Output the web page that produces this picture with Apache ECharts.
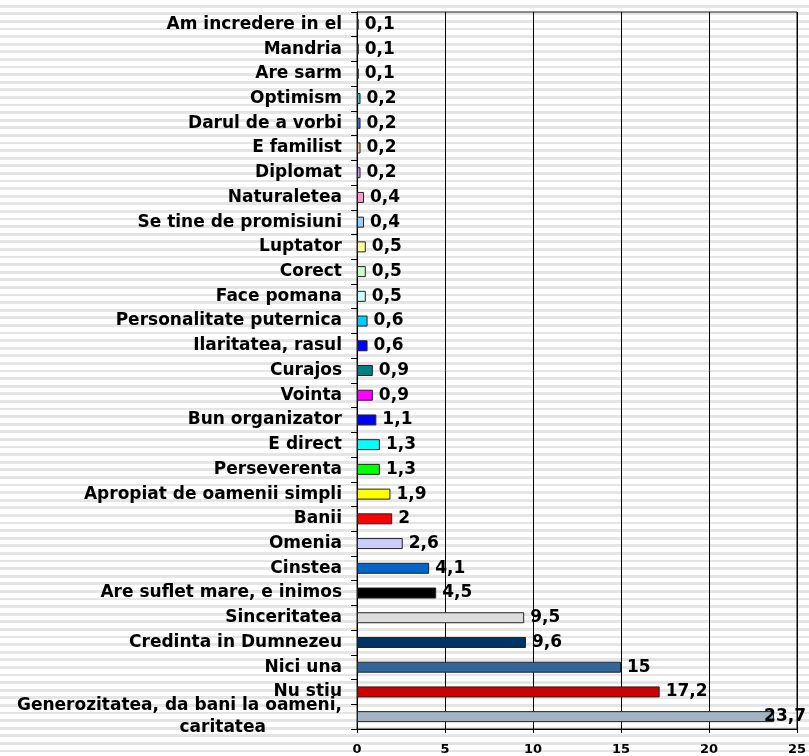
<!DOCTYPE html>
<html>
<head>
<meta charset="utf-8">
<script src="https://cdn.jsdelivr.net/npm/echarts@6/dist/echarts.min.js"></script>
<style>
  html, body {
    margin: 0;
    padding: 0;
  }
  body {
    background: repeating-linear-gradient(
      to bottom,
      #ffffff 0px,
      #ffffff 4.8px,
      #e5e5e5 4.8px,
      #e5e5e5 7.6px
    );
  }
  #chart {
    width: 809px;
    height: 756px;
  }
</style>
</head>
<body>
<div id="chart"></div>
<script>
  // categories, top to bottom
  const categories = [
    "Am incredere in el",
    "Mandria",
    "Are sarm",
    "Optimism",
    "Darul de a vorbi",
    "E familist",
    "Diplomat",
    "Naturaletea",
    "Se tine de promisiuni",
    "Luptator",
    "Corect",
    "Face pomana",
    "Personalitate puternica",
    "Ilaritatea, rasul",
    "Curajos",
    "Vointa",
    "Bun organizator",
    "E direct",
    "Perseverenta",
    "Apropiat de oamenii simpli",
    "Banii",
    "Omenia",
    "Cinstea",
    "Are suflet mare, e inimos",
    "Sinceritatea",
    "Credinta in Dumnezeu",
    "Nici una",
    "Nu stiu",
    "Generozitatea, da bani la oameni, caritatea",
  ];

  const values = [
    0.1, 0.1, 0.1, 0.2, 0.2, 0.2, 0.2, 0.4, 0.4, 0.5, 0.5, 0.5, 0.6, 0.6,
    0.9, 0.9, 1.1, 1.3, 1.3, 1.9, 2, 2.6, 4.1, 4.5, 9.5, 9.6, 15, 17.2, 23.7,
  ];

  const barColors = [
    "#cc6600", "#cc9900", "#669900", "#33cccc", "#3366ff", "#ffcc99",
    "#cc99ff", "#ff99cc", "#99ccff", "#ffff99", "#ccffcc", "#ccffff",
    "#00ccff", "#0000ff", "#008080", "#ff00ff", "#0000ff", "#00ffff",
    "#00ff00", "#ffff00", "#ff0000", "#ccccff", "#0066cc", "#000000",
    "#dddddd", "#003366", "#336699", "#cc0000", "#a3b3c3",
  ];

  const xTicks = [0, 5, 10, 15, 20, 25];

  const font = "DejaVu Sans, Verdana, sans-serif";

  const chart = echarts.init(document.getElementById("chart"));

  const option = {
    animation: false,
    backgroundColor: "transparent",
    grid: {
      left: 357,
      right: 8,
      top: 12,
      bottom: 27,
      show: true,
      borderColor: "#222",
      borderWidth: 1,
      backgroundColor: "transparent",
    },
    xAxis: {
      type: "value",
      min: xTicks[0],
      max: xTicks[xTicks.length - 1],
      interval: xTicks[1] - xTicks[0],
      axisLine: { show: true, lineStyle: { color: "#000", width: 1 } },
      axisTick: { show: true, length: 4, lineStyle: { color: "#000" } },
      splitLine: { show: true, lineStyle: { color: "#000", width: 1 } },
      axisLabel: {
        margin: 14,
        color: "#000",
        fontFamily: font,
        fontWeight: "bold",
        fontSize: 13,
      },
    },
    yAxis: {
      type: "category",
      data: categories,
      inverse: true,
      axisLine: { show: true, lineStyle: { color: "#000", width: 1 } },
      axisTick: { show: true, length: 6, lineStyle: { color: "#000" } },
      splitLine: { show: false },
      axisLabel: {
        margin: 15,
        interval: 0,
        color: "#000",
        fontFamily: font,
        fontWeight: "bold",
        fontSize: 17,
        formatter: (name) => {
          if (name.indexOf("Generozitatea") === 0) {
            return "{a|Generozitatea, da bani la oameni,}\n{b|caritatea}";
          }
          return name;
        },
        rich: {
          a: {
            fontFamily: font,
            fontWeight: "bold",
            fontSize: 17,
            lineHeight: 22,
            color: "#000",
          },
          b: {
            fontFamily: font,
            fontWeight: "bold",
            fontSize: 17,
            lineHeight: 22,
            color: "#000",
            padding: [0, 76, 0, 0],
          },
        },
      },
    },
    series: [
      {
        type: "bar",
        barWidth: 11,
        data: values.map((v, i) => ({
          value: v,
          itemStyle: { color: barColors[i] },
          label: i === values.length - 1 ? { offset: [-16, 0] } : undefined,
        })),
        itemStyle: { borderColor: "#222", borderWidth: 1 },
        label: {
          show: true,
          position: "right",
          distance: 6,
          color: "#000",
          fontFamily: font,
          fontWeight: "bold",
          fontSize: 17,
          formatter: (p) => String(p.value).replace(".", ","),
        },
      },
    ],
  };

  chart.setOption(option);
</script>
</body>
</html>
